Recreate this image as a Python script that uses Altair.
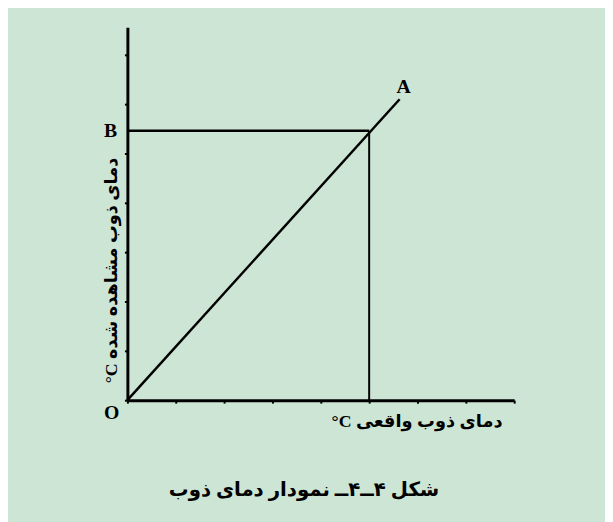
import altair as alt
import pandas as pd

# ---- data ----
x_ticks = [0, 1, 2, 3, 4, 5, 6, 7, 8]
y_ticks = [0, 1, 2, 3, 4, 5, 6, 7]
x_domain = [0, 8]
y_domain = [0, 7.56]

diag_x = [0.0, 5.63]          # line O -> A
diag_y = [0.0, 6.10]
real_temp = 5.0               # C (vertical line)
observed_temp = 5.46          # B (horizontal line)

label_o = "O"
label_b = "B"
label_a = "A"

x_title = "°C دمای ذوب واقعی"
y_title = "°C دمای ذوب مشاهده شده"
caption = "شکل ۴ــ۴ــ نمودار دمای ذوب"

BG = "#cce5d5"
LATIN = "Liberation Serif"
MIXED = "Liberation Serif, DejaVu Sans"

diag_df = pd.DataFrame({"x": diag_x, "y": diag_y})
hb_df = pd.DataFrame({"x": [0.0], "x2": [real_temp], "y": [observed_temp]})
vc_df = pd.DataFrame({"x": [real_temp], "y": [0.0], "y2": [observed_temp]})
o_df = pd.DataFrame({"x": [0.0], "y": [0.0], "t": [label_o]})
b_df = pd.DataFrame({"x": [0.0], "y": [observed_temp], "t": [label_b]})
a_df = pd.DataFrame({"x": [diag_x[1]], "y": [diag_y[1]], "t": [label_a]})

x_axis = alt.Axis(values=x_ticks, labels=False, grid=False,
                  tickSize=3, tickWidth=2, tickColor="black",
                  domainColor="black", domainWidth=3,
                  title=x_title, titleX=293, titleY=22,
                  titleAlign="center", titleBaseline="middle",
                  titleFont=MIXED, titleFontSize=18, titleFontWeight="bold",
                  titleColor="black")
y_axis = alt.Axis(values=y_ticks, labels=False, grid=False,
                  tickSize=3, tickWidth=2, tickColor="black",
                  domainColor="black", domainWidth=3,
                  title=y_title, titleX=-16, titleY=246, titleAngle=270,
                  titleAlign="center", titleBaseline="middle",
                  titleFont=MIXED, titleFontSize=18, titleFontWeight="bold",
                  titleColor="black")

xs = alt.Scale(domain=x_domain, nice=False, zero=True)
ys = alt.Scale(domain=y_domain, nice=False, zero=True)

diag = alt.Chart(diag_df).mark_line(color="black", strokeWidth=2.5).encode(
    x=alt.X("x:Q", scale=xs, axis=x_axis),
    y=alt.Y("y:Q", scale=ys, axis=y_axis),
)
hline = alt.Chart(hb_df).mark_rule(color="black", strokeWidth=2.5).encode(
    x=alt.X("x:Q", scale=xs, axis=x_axis), x2="x2:Q",
    y=alt.Y("y:Q", scale=ys, axis=y_axis),
)
vline = alt.Chart(vc_df).mark_rule(color="black", strokeWidth=2).encode(
    x=alt.X("x:Q", scale=xs, axis=x_axis),
    y=alt.Y("y:Q", scale=ys, axis=y_axis), y2="y2:Q",
)

def label(df, dx, dy):
    return alt.Chart(df).mark_text(font=LATIN, fontSize=20, fontWeight="bold",
                                   color="black", dx=dx, dy=dy,
                                   align="center", baseline="middle").encode(
        x=alt.X("x:Q", scale=xs, axis=x_axis),
        y=alt.Y("y:Q", scale=ys, axis=y_axis),
        text="t:N",
    )

chart = alt.layer(
    diag, hline, vline,
    label(o_df, -16, 13), label(b_df, -17, 0), label(a_df, 4, -12),
).properties(
    width=392, height=378,
    padding={"left": 121, "top": 16, "right": 92, "bottom": 120},
    autosize=alt.AutoSizeParams(type="none"),
    title=alt.TitleParams(text=caption, orient="bottom", anchor="middle",
                          font=MIXED, fontSize=20, fontWeight="bold",
                          color="black", offset=50, dx=-17),
).configure(background=BG).configure_view(stroke=None)

chart.save("out.html", embed_options={"renderer": "svg", "actions": False})
